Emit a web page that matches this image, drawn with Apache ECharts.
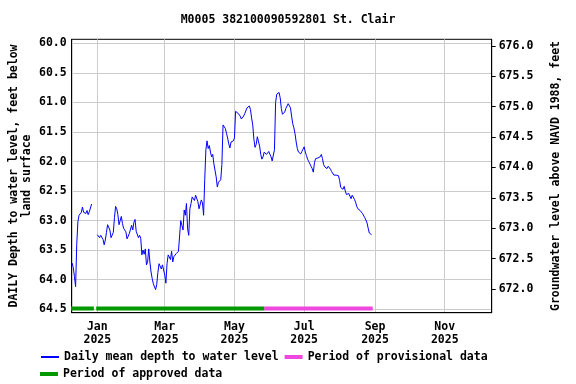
<!DOCTYPE html>
<html>
<head>
<meta charset="utf-8">
<script src="https://cdn.jsdelivr.net/npm/echarts@6/dist/echarts.min.js"></script>
<style>html,body{margin:0;padding:0;background:#fff;}#c{width:576px;height:384px;}</style>
</head>
<body>
<div id="c"></div>
<script>
// ---- data ----
const titleText = 'M0005 382100090592801 St. Clair';
const seg1Start = '2024-12-10';
const seg1Depths = [63.72, 63.80, 63.95, 64.12, 63.40, 63.02, 62.91, 62.90, 62.86, 62.77, 62.86, 62.83, 62.88, 62.83, 62.90, 62.85, 62.86, 62.72];
const seg2Start = '2025-01-01';
const seg2Depths = [
 63.24,63.26,63.29,63.25,63.28,63.32,63.41,63.33,63.20,63.07,
 63.04,63.16,63.29,63.29,63.20,62.95,62.76,62.80,62.90,63.07,
 63.00,62.93,63.05,63.13,63.11,63.19,63.31,63.28,63.22,63.20,
 63.08,63.16,63.03,62.98,63.18,63.20,63.29,63.25,63.30,63.58,
 63.50,63.57,63.48,63.75,63.70,63.48,63.70,63.87,63.98,64.07,
 64.08,64.17,64.08,63.88,63.73,63.70,63.82,63.75,63.77,63.92,
 64.06,63.73,63.58,63.55,63.66,63.52,63.70,63.61,63.62,63.56,
 63.53,63.52,63.54,63.00,63.08,63.16,62.82,62.91,62.71,63.14,
 63.25,62.80,62.71,62.60,62.57,62.66,62.57,62.56,62.68,62.80,
 62.80,62.65,62.70,62.91,62.30,61.80,61.65,61.78,61.73,61.84,
 61.92,61.88,62.04,62.01,62.26,62.43,62.35,62.36,62.31,62.05,
 61.38,61.38,61.44,61.52,61.60,61.70,61.77,61.67,61.68,61.65,
 61.60,61.15,61.16,61.18,61.20,61.23,61.28,61.30,61.23,61.19,
 61.18,61.09,61.06,61.06,61.12,61.26,61.38,61.62,61.76,61.71,
 61.58,61.60,61.74,61.88,61.96,61.92,61.84,61.83,61.88,61.88,
 61.83,61.84,61.92,61.99,62.01,61.80,61.00,60.86,60.83,60.83,
 60.92,61.10,61.20,61.23,61.16,61.10,61.06,61.02,60.99,61.09,
 61.23,61.36,61.43,61.53,61.67,61.78,61.84,61.87,61.87,61.83,
 61.79,61.75,61.84,61.90,61.96,62.00,62.04,62.08,62.12,62.18,
 62.02,61.95,61.94,61.94,61.97,61.92,61.88,61.95,62.05,62.09,
 62.09,62.12,62.08,62.08,62.13,62.17,62.20,62.23,62.23,62.23,
 62.22,62.24,62.32,62.44,62.41,62.47,62.42,62.50,62.56,62.56,
 62.54,62.57,62.63,62.57,62.60,62.64,62.69,62.76,62.80,62.81,
 62.83,62.85,62.88,62.91,62.95,62.99,63.04,63.13,63.21,63.24,
 63.24];
const approvedStarts = ['2024-12-09', '2024-12-31'];
const approvedEnds   = ['2024-12-29', '2025-05-27'];
const provisionalStarts = ['2025-05-27'];
const provisionalEnds   = ['2025-08-30'];
const periodLevel = 64.49;
const depthTicks = [60.0, 60.5, 61.0, 61.5, 62.0, 62.5, 63.0, 63.5, 64.0, 64.5];
const elevTicks = [672.0, 672.5, 673.0, 673.5, 674.0, 674.5, 675.0, 675.5, 676.0];
const monthTicks = ['2025-01-01', '2025-03-01', '2025-05-01', '2025-07-01', '2025-09-01', '2025-11-01'];
const monthNames = ['Jan','Feb','Mar','Apr','May','Jun','Jul','Aug','Sep','Oct','Nov','Dec'];
const nameDaily = 'Daily mean depth to water level';
const nameProv = 'Period of provisional data';
const nameAppr = 'Period of approved data';

// ---- helpers ----
const DAY = 86400000;
function ts(s) { const p = s.split('-').map(Number); return Date.UTC(p[0], p[1]-1, p[2]); }
function daily(start, vals) { const t0 = ts(start); return vals.map((v, i) => [t0 + i*DAY, v]); }
function periods(starts, ends) {
  const out = [];
  starts.forEach((s, i) => { out.push([ts(s), periodLevel]); out.push([ts(ends[i]), periodLevel]); out.push([ts(ends[i]) + DAY/2, '-']); });
  return out;
}
const lineData = daily(seg1Start, seg1Depths).concat([[ts('2024-12-29'), '-']]).concat(daily(seg2Start, seg2Depths));

const FONT = 'DejaVu Sans Mono';
const txt = { fontFamily: FONT, fontSize: 11.5, color: '#000', fontWeight: 'bold' };

const chart = echarts.init(document.getElementById('c'), null, { renderer: 'canvas' });
chart.setOption({
  animation: false,
  backgroundColor: '#fff',
  title: { text: titleText, left: 'center', top: 9, textStyle: Object.assign({}, txt) },
  grid: { left: 71.7, right: 84.3, top: 39.3, bottom: 71.3, show: true, borderColor: '#000', borderWidth: 1,
          containLabel: false, outerBoundsMode: 'none' },
  legend: [
    { left: 40, top: 351, padding: 0, itemWidth: 18, itemHeight: 4, itemGap: 6, textStyle: Object.assign({}, txt),
      data: [{ name: nameDaily, itemStyle: { opacity: 0 } }, { name: nameProv, icon: 'rect' }] },
    { left: 40, top: 368, padding: 0, itemWidth: 18, itemHeight: 4, itemGap: 6, textStyle: Object.assign({}, txt),
      data: [{ name: nameAppr, icon: 'rect' }] }
  ],
  xAxis: {
    type: 'value', min: Date.UTC(2024, 11, 9, 14), max: Date.UTC(2025, 11, 12, 2),
    axisLine: { show: true, lineStyle: { color: '#000' } },
    axisTick: { show: false, customValues: monthTicks.map(ts) },
    axisLabel: { customValues: monthTicks.map(ts), margin: 8, lineHeight: 13, fontFamily: FONT, fontSize: 11.5, fontWeight: 'bold', color: '#000',
      formatter: v => { const d = new Date(v); return monthNames[d.getUTCMonth()] + '\n' + d.getUTCFullYear(); } },
    splitLine: { show: true, lineStyle: { color: '#cccccc', width: 1 } }
  },
  yAxis: [
    { type: 'value', inverse: true, min: 59.93, max: 64.56, position: 'left',
      axisLine: { show: true, lineStyle: { color: '#000' } },
      axisTick: { show: false, customValues: depthTicks },
      axisLabel: { customValues: depthTicks, margin: 5, fontFamily: FONT, fontSize: 11.5, fontWeight: 'bold', color: '#000', formatter: v => v.toFixed(1) },
      splitLine: { show: true, lineStyle: { color: '#cccccc', width: 1 } },
      name: 'DAILY Depth to water level, feet below\nland surface', nameLocation: 'middle', nameGap: 38, nameRotate: 90,
      nameMoveOverlap: false,
      nameTextStyle: Object.assign({}, txt, { lineHeight: 13 }) },
    { type: 'value', min: 671.61, max: 676.11, position: 'right',
      axisLine: { show: true, lineStyle: { color: '#000' } },
      axisTick: { show: true, inside: false, length: 4, customValues: elevTicks, lineStyle: { color: '#000' } },
      axisLabel: { customValues: elevTicks, margin: 7, fontFamily: FONT, fontSize: 11.5, fontWeight: 'bold', color: '#000', formatter: v => v.toFixed(1) },
      splitLine: { show: false },
      name: 'Groundwater level above NAVD 1988, feet', nameLocation: 'middle', nameGap: 58, nameRotate: 90,
      nameMoveOverlap: false,
      nameTextStyle: Object.assign({}, txt) }
  ],
  series: [
    { name: nameDaily, type: 'line', yAxisIndex: 0, data: lineData, symbol: 'none', connectNulls: false,
      lineStyle: { color: '#0000ff', width: 1 }, itemStyle: { color: '#0000ff' }, z: 3 },
    { name: nameProv, type: 'line', yAxisIndex: 0, data: periods(provisionalStarts, provisionalEnds), symbol: 'none',
      lineStyle: { color: '#ee48de', width: 4, cap: 'butt' }, itemStyle: { color: '#ee48de' }, z: 2 },
    { name: nameAppr, type: 'line', yAxisIndex: 0, data: periods(approvedStarts, approvedEnds), symbol: 'none',
      lineStyle: { color: '#009a00', width: 4, cap: 'butt' }, itemStyle: { color: '#009a00' }, z: 2 }
  ]
});
</script>
</body>
</html>
